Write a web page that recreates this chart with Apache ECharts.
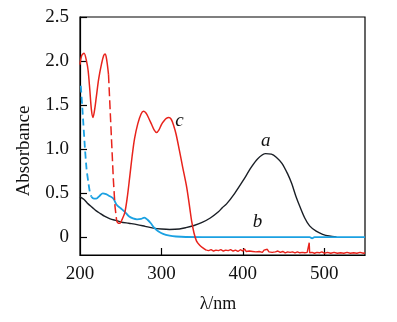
<!DOCTYPE html>
<html>
<head>
<meta charset="utf-8">
<script src="https://cdn.jsdelivr.net/npm/echarts@6/dist/echarts.min.js"></script>
<style>html,body{margin:0;padding:0;background:#fff;}#c{width:397px;height:322px;}</style>
</head>
<body>
<div id="c"></div>
<script>
// Curve a (black)
const curveA = [[200,0.46],[205,0.43],[210,0.38],[215,0.34],[220,0.30],[225,0.27],[230,0.24],[237,0.21],[245,0.19],[250,0.175],[260,0.16],[270,0.145],[280,0.125],[290,0.105],[300,0.095],[310,0.09],[322,0.095],[330,0.11],[340,0.135],[350,0.17],[360,0.22],[370,0.29],[375,0.34],[380,0.38],[390,0.50],[400,0.64],[410,0.79],[418,0.89],[428,0.95],[435,0.945],[441,0.91],[448,0.84],[455,0.72],[460,0.61],[465,0.47],[470,0.35],[476,0.22],[482,0.13],[490,0.07],[498,0.035],[506,0.015],[515,0.005]];
// Curve b (blue): dashed part then solid part
const curveBDashed = [[201,1.72],[203,1.45],[206,1.02],[208,0.78],[210,0.64],[212,0.52],[214,0.46]];
const curveBSolid = [[214,0.46],[217,0.44],[220,0.44],[224,0.47],[228,0.50],[232,0.49],[236,0.47],[241,0.44],[245,0.37],[250,0.33],[255,0.29],[260,0.24],[265,0.215],[270,0.205],[275,0.21],[279,0.225],[283,0.20],[287,0.16],[291,0.11],[296,0.07],[302,0.04],[310,0.02],[318,0.01],[330,0.004],[350,0.003],[400,0.003],[482,0.003],[485,-0.012],[488,0.003],[550,0.003]];
// Curve c (red): solid, dashed, solid, noisy tail
const curveCSolid1 = [[200,1.96],[202,2.06],[205,2.09],[208,2.0],[210,1.89],[212,1.68],[214,1.45],[216,1.36],[218,1.45],[220,1.59],[223,1.80],[226.5,1.97],[229,2.06],[231,2.08],[233,2.0],[235,1.85]];
const curveCDashed = [[235,1.85],[237,1.45],[239,1.05],[241,0.65],[243,0.35],[245,0.19]];
const curveCSolid2 = [[245,0.19],[247,0.16],[249,0.16],[252,0.21],[255,0.28],[258,0.45],[261,0.68],[264,0.92],[267,1.12],[271,1.29],[275,1.40],[278,1.43],[281,1.41],[284,1.36],[288,1.28],[291,1.22],[294,1.19],[297,1.22],[300,1.28],[303,1.32],[306,1.35],[309,1.36],[312,1.34],[315,1.27],[318,1.17],[322,0.99],[326,0.80],[331,0.57],[335,0.32],[337,0.19],[340,0.05],[343,-0.04],[347,-0.09],[351,-0.12],[355,-0.145]];
const curveCTail = [[355,-0.145],[358,-0.15],[361,-0.14],[364,-0.155],[367,-0.145],[370,-0.15],[373,-0.14],[376,-0.155],[379,-0.145],[382,-0.15],[385,-0.14],[388,-0.155],[391,-0.145],[394,-0.16],[397,-0.14],[400,-0.155],[402,-0.13],[404,-0.16],[406,-0.14],[408,-0.155],[410,-0.135],[412,-0.16],[414,-0.14],[416,-0.165],[418,-0.145],[420,-0.16],[422,-0.14],[424,-0.17],[426,-0.145],[428,-0.16],[430,-0.135],[432,-0.165],[434,-0.15],[436,-0.17],[438,-0.15],[440,-0.165],[443,-0.155],[446,-0.17],[449,-0.16],[452,-0.175],[455,-0.165],[458,-0.17],[461,-0.165],[464,-0.175],[467,-0.165],[470,-0.175],[473,-0.17],[476,-0.175],[479,-0.17],[481,-0.175],[481.5,-0.06],[482,-0.175],[485,-0.17],[488,-0.18],[491,-0.17],[494,-0.175],[497,-0.165],[500,-0.18],[504,-0.17],[508,-0.18],[512,-0.17],[516,-0.18],[520,-0.175],[524,-0.18],[528,-0.17],[532,-0.18],[536,-0.175],[540,-0.18],[544,-0.17],[548,-0.18],[550,-0.175]];
const xTicks = [200,300,400,500];
const yTicks = [0,0.5,1.0,1.5,2.0,2.5];
const xName = 'λ/nm';
const yName = 'Absorbance';
const curveLabels = [['a',428,1.09],['b',418,0.18],['c',322,1.32]];

const RED = '#e8231c', BLUE = '#1ba1e2', BLACK = '#1a1f26';
const FONT = '"Liberation Serif", "Times New Roman", serif';
const chart = echarts.init(document.getElementById('c'), null, {renderer:'canvas'});

function line(data, color, width, dashed, smooth){
  return {type:'line', data:data, showSymbol:false, symbol:'none', smooth:smooth, animation:false,
    lineStyle:{color:color, width:width, type: dashed ? dashed : 'solid'}, z: 2};
}

chart.setOption({
  animation:false,
  grid:{left:80, top:17, right:32, bottom:67, show:true, borderColor:'#000', borderWidth:1.2, backgroundColor:'transparent'},
  xAxis:{type:'value', min:200, max:550, interval:100,
    axisLine:{show:true, onZero:false, lineStyle:{color:'#000', width:1.2}},
    axisTick:{show:true, inside:true, length:7, lineStyle:{color:'#000', width:1.2}, customValues:[300,400,500]},
    axisLabel:{color:'#111', fontFamily:FONT, fontSize:19, margin:10, customValues:xTicks},
    splitLine:{show:false}},
  yAxis:{type:'value', min:-0.2, max:2.5,
    axisLine:{show:true, onZero:false, lineStyle:{color:'#000', width:1.2}},
    axisTick:{show:true, inside:true, length:7, lineStyle:{color:'#000', width:1.2}, customValues:yTicks},
    axisLabel:{color:'#111', fontFamily:FONT, fontSize:19, margin:11, customValues:yTicks,
      formatter: v => v === 0 ? '0' : v.toFixed(1)},
    splitLine:{show:false}},
  series:[
    line(curveA, BLACK, 1.4, null, 0.3),
    line(curveBDashed, BLUE, 1.8, [7,4], 0.2),
    line(curveBSolid, BLUE, 1.8, null, 0.3),
    line(curveCSolid1, RED, 1.5, null, 0.3),
    line(curveCDashed, RED, 1.5, [9,4], false),
    line(curveCSolid2, RED, 1.5, null, 0.3),
    line(curveCTail, RED, 1.4, null, false)
  ]
});

function place(){
  const els = [];
  curveLabels.forEach(([t,x,y]) => {
    const p = chart.convertToPixel({gridIndex:0}, [x,y]);
    els.push({type:'text', x:p[0], y:p[1], style:{text:t, font:'italic 19px '+FONT, fill:'#111', align:'center', verticalAlign:'middle'}});
  });
  els.push({type:'text', x:218, y:304, style:{text:xName, font:'18px '+FONT, fill:'#111', align:'center', verticalAlign:'middle'}});
  els.push({type:'text', x:24, y:151, rotation:Math.PI/2, style:{text:yName, font:'19px '+FONT, fill:'#111', align:'center', verticalAlign:'middle'}});
  chart.setOption({graphic:{elements:els}});
}
place();
</script>
</body>
</html>
